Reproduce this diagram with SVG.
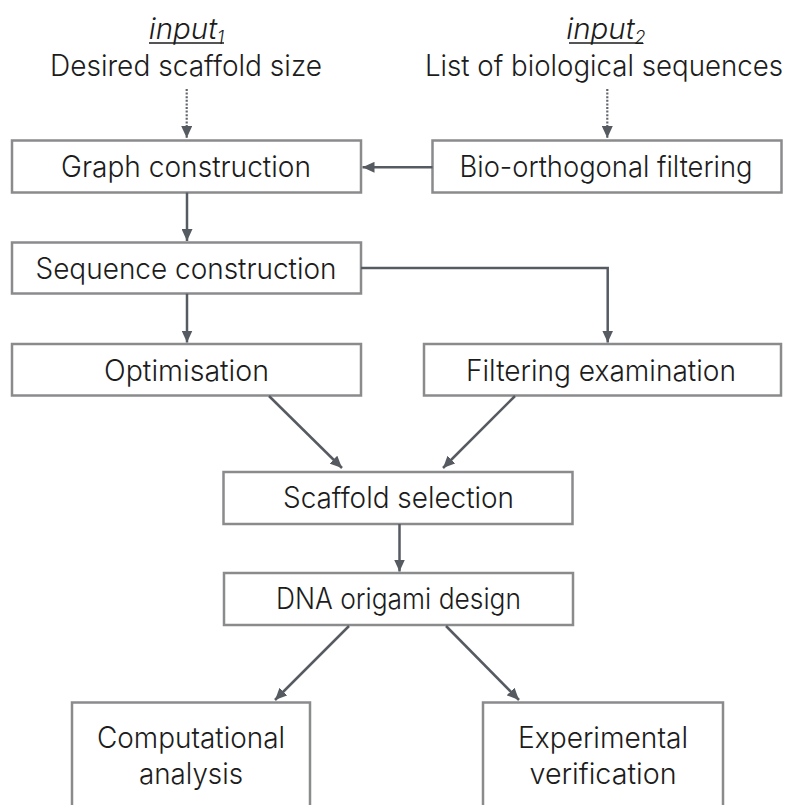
<svg xmlns="http://www.w3.org/2000/svg" width="792" height="805" viewBox="0 0 792 805">
  <style>
    .box { fill: #ffffff; stroke: #8a8b8d; stroke-width: 2.5; }
    .lbl { font-family: Inter, "Liberation Sans", Arial, sans-serif; font-weight: 300; font-size: 29.5px; fill: #1c1c1c; text-anchor: middle; }
    .inp { font-style: italic; }
    .sub { font-size: 18px; }
    .edge { fill: none; stroke: #565b62; stroke-width: 2.5; }
    .dot { fill: none; stroke: #62666c; stroke-width: 2.2; stroke-dasharray: 2 1.6; }
    .uline { stroke: #1c1c1c; stroke-width: 1.4; }
  </style>
  <defs>
    <marker id="head" markerUnits="userSpaceOnUse" markerWidth="12" markerHeight="11" refX="12" refY="5.5" orient="auto">
      <path d="M0,0 L12,5.5 L0,11 z" fill="#565b62"/>
    </marker>
  </defs>
  <rect width="792" height="805" fill="#ffffff"/>

  <!-- inputs -->
  <g id="input1">
    <text class="lbl" x="186.5" y="39"><tspan class="inp">input</tspan><tspan class="sub inp" dy="5">1</tspan></text>
    <line class="uline" x1="149" y1="43" x2="224" y2="43"/>
    <text class="lbl" x="186" y="76" textLength="272" lengthAdjust="spacingAndGlyphs">Desired scaffold size</text>
  </g>
  <g id="input2">
    <text class="lbl" x="606" y="39"><tspan class="inp">input</tspan><tspan class="sub inp" dy="5">2</tspan></text>
    <line class="uline" x1="569" y1="43" x2="643" y2="43"/>
    <text class="lbl" x="604" y="76" textLength="358" lengthAdjust="spacingAndGlyphs">List of biological sequences</text>
  </g>

  <!-- process boxes -->
  <g id="graph">
    <rect class="box" x="12" y="140.5" width="349" height="52"/>
    <text class="lbl" x="186" y="177" textLength="250" lengthAdjust="spacingAndGlyphs">Graph construction</text>
  </g>
  <g id="biofilter">
    <rect class="box" x="432.5" y="140.5" width="349" height="52"/>
    <text class="lbl" x="606" y="177" textLength="293" lengthAdjust="spacingAndGlyphs">Bio-orthogonal filtering</text>
  </g>
  <g id="sequence">
    <rect class="box" x="12" y="242.5" width="349" height="51"/>
    <text class="lbl" x="186" y="279" textLength="301" lengthAdjust="spacingAndGlyphs">Sequence construction</text>
  </g>
  <g id="optimisation">
    <rect class="box" x="12" y="344" width="349" height="51.5"/>
    <text class="lbl" x="186.5" y="381" textLength="165" lengthAdjust="spacingAndGlyphs">Optimisation</text>
  </g>
  <g id="filtering">
    <rect class="box" x="424" y="344" width="357" height="51.5"/>
    <text class="lbl" x="601" y="381" textLength="270" lengthAdjust="spacingAndGlyphs">Filtering examination</text>
  </g>
  <g id="scaffold">
    <rect class="box" x="223.5" y="472" width="349" height="52"/>
    <text class="lbl" x="398.5" y="508" textLength="231" lengthAdjust="spacingAndGlyphs">Scaffold selection</text>
  </g>
  <g id="origami">
    <rect class="box" x="224" y="573" width="349" height="52"/>
    <text class="lbl" x="398.5" y="609" textLength="245" lengthAdjust="spacingAndGlyphs">DNA origami design</text>
  </g>
  <g id="computational">
    <rect class="box" x="72" y="702.5" width="238" height="120"/>
    <text class="lbl" x="191" y="747.5" textLength="188" lengthAdjust="spacingAndGlyphs">Computational</text>
    <text class="lbl" x="191" y="784" textLength="104" lengthAdjust="spacingAndGlyphs">analysis</text>
  </g>
  <g id="experimental">
    <rect class="box" x="483" y="702.5" width="240" height="120"/>
    <text class="lbl" x="603" y="747.5" textLength="170" lengthAdjust="spacingAndGlyphs">Experimental</text>
    <text class="lbl" x="603" y="784" textLength="147" lengthAdjust="spacingAndGlyphs">verification</text>
  </g>

  <!-- connectors -->
  <g id="connectors">
    <line class="dot" x1="186.7" y1="89" x2="186.7" y2="138" marker-end="url(#head)"/>
    <line class="dot" x1="607.3" y1="89" x2="607.3" y2="138" marker-end="url(#head)"/>
    <line class="edge" x1="432.5" y1="167.3" x2="362.5" y2="167.3" marker-end="url(#head)"/>
    <line class="edge" x1="187" y1="192.5" x2="187" y2="241" marker-end="url(#head)"/>
    <polyline class="edge" points="361,268 607.7,268 607.7,342.5" marker-end="url(#head)"/>
    <line class="edge" x1="187" y1="293.7" x2="187" y2="342.5" marker-end="url(#head)"/>
    <line class="edge" x1="269" y1="396" x2="342" y2="468" marker-end="url(#head)"/>
    <line class="edge" x1="515" y1="396" x2="443" y2="468" marker-end="url(#head)"/>
    <line class="edge" x1="399.5" y1="524" x2="399.5" y2="571.5" marker-end="url(#head)"/>
    <line class="edge" x1="349" y1="626" x2="275" y2="700" marker-end="url(#head)"/>
    <line class="edge" x1="446" y1="626" x2="519" y2="700" marker-end="url(#head)"/>
  </g>
</svg>
